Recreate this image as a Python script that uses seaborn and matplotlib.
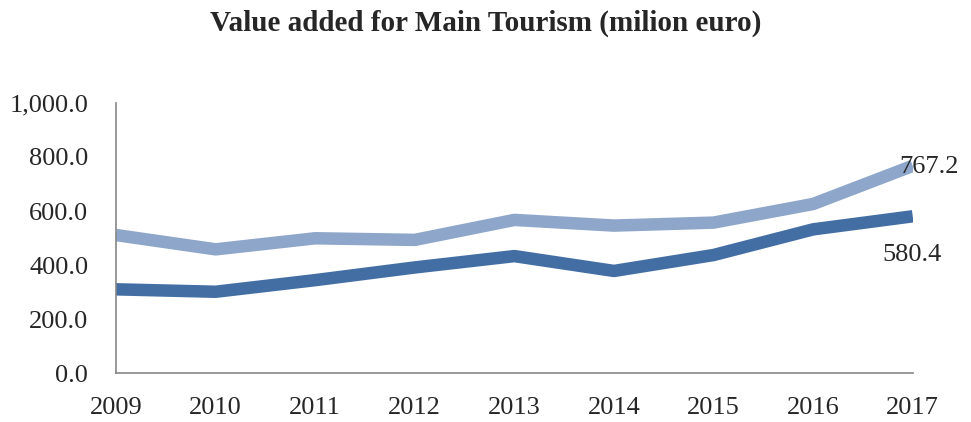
import matplotlib
matplotlib.use("Agg")
import matplotlib.pyplot as plt
import seaborn as sns
import pandas as pd

years = [2009, 2010, 2011, 2012, 2013, 2014, 2015, 2016, 2017]
upper_values = [511, 458, 499, 493, 567, 546, 557, 626, 767.2]
lower_values = [310, 301, 344, 391, 433, 378, 437, 532, 580.4]
series_names = ["Upper", "Lower"]
y_ticks = [0, 200, 400, 600, 800, 1000]

sns.set_theme(style="white")
plt.rcParams['font.family'] = ['Liberation Serif', 'DejaVu Serif']

df = pd.DataFrame({
    "Year": years * 2,
    "Value": upper_values + lower_values,
    "Series": [series_names[0]] * len(years) + [series_names[1]] * len(years),
})

fig = plt.figure(figsize=(9.71, 4.22), dpi=100)
ax = fig.add_axes([0.1195, 0.116, 0.8205, 0.64])
sns.lineplot(data=df, x="Year", y="Value", hue="Series",
             palette={"Upper": "#8DA6C9", "Lower": "#436EA4"},
             linewidth=9, legend=False, ax=ax, solid_capstyle="butt")

ax.set_xlim(years[0], years[-1])
ax.set_ylim(0, 1000)
ax.set_xticks(years)
ax.set_xticklabels([str(y) for y in years], fontsize=19)
ax.set_yticks(y_ticks)
ax.set_yticklabels([f"{v:,.1f}" for v in y_ticks], fontsize=19)
ax.tick_params(axis="x", length=0, pad=17)
ax.tick_params(axis="y", length=0, pad=20)
ax.set_xlabel("")
ax.set_ylabel("")

for side in ["top", "right"]:
    ax.spines[side].set_visible(False)
for side in ["left", "bottom"]:
    ax.spines[side].set_color("#868686")
    ax.spines[side].set_linewidth(1.2)

ax.annotate(f"{upper_values[-1]:.1f}", (years[-1], upper_values[-1]),
            xytext=(-10, -1), textcoords="offset points", fontsize=19,
            ha="left", va="center")
ax.annotate(f"{lower_values[-1]:.1f}", (years[-1], lower_values[-1]),
            xytext=(-22, -28), textcoords="offset points", fontsize=19,
            ha="left", va="center")

fig.text(0.5, 0.945, "Value added for Main Tourism (milion euro)",
         ha="center", va="center", fontsize=21, fontweight="bold")

fig.savefig("out.png", dpi=100)
